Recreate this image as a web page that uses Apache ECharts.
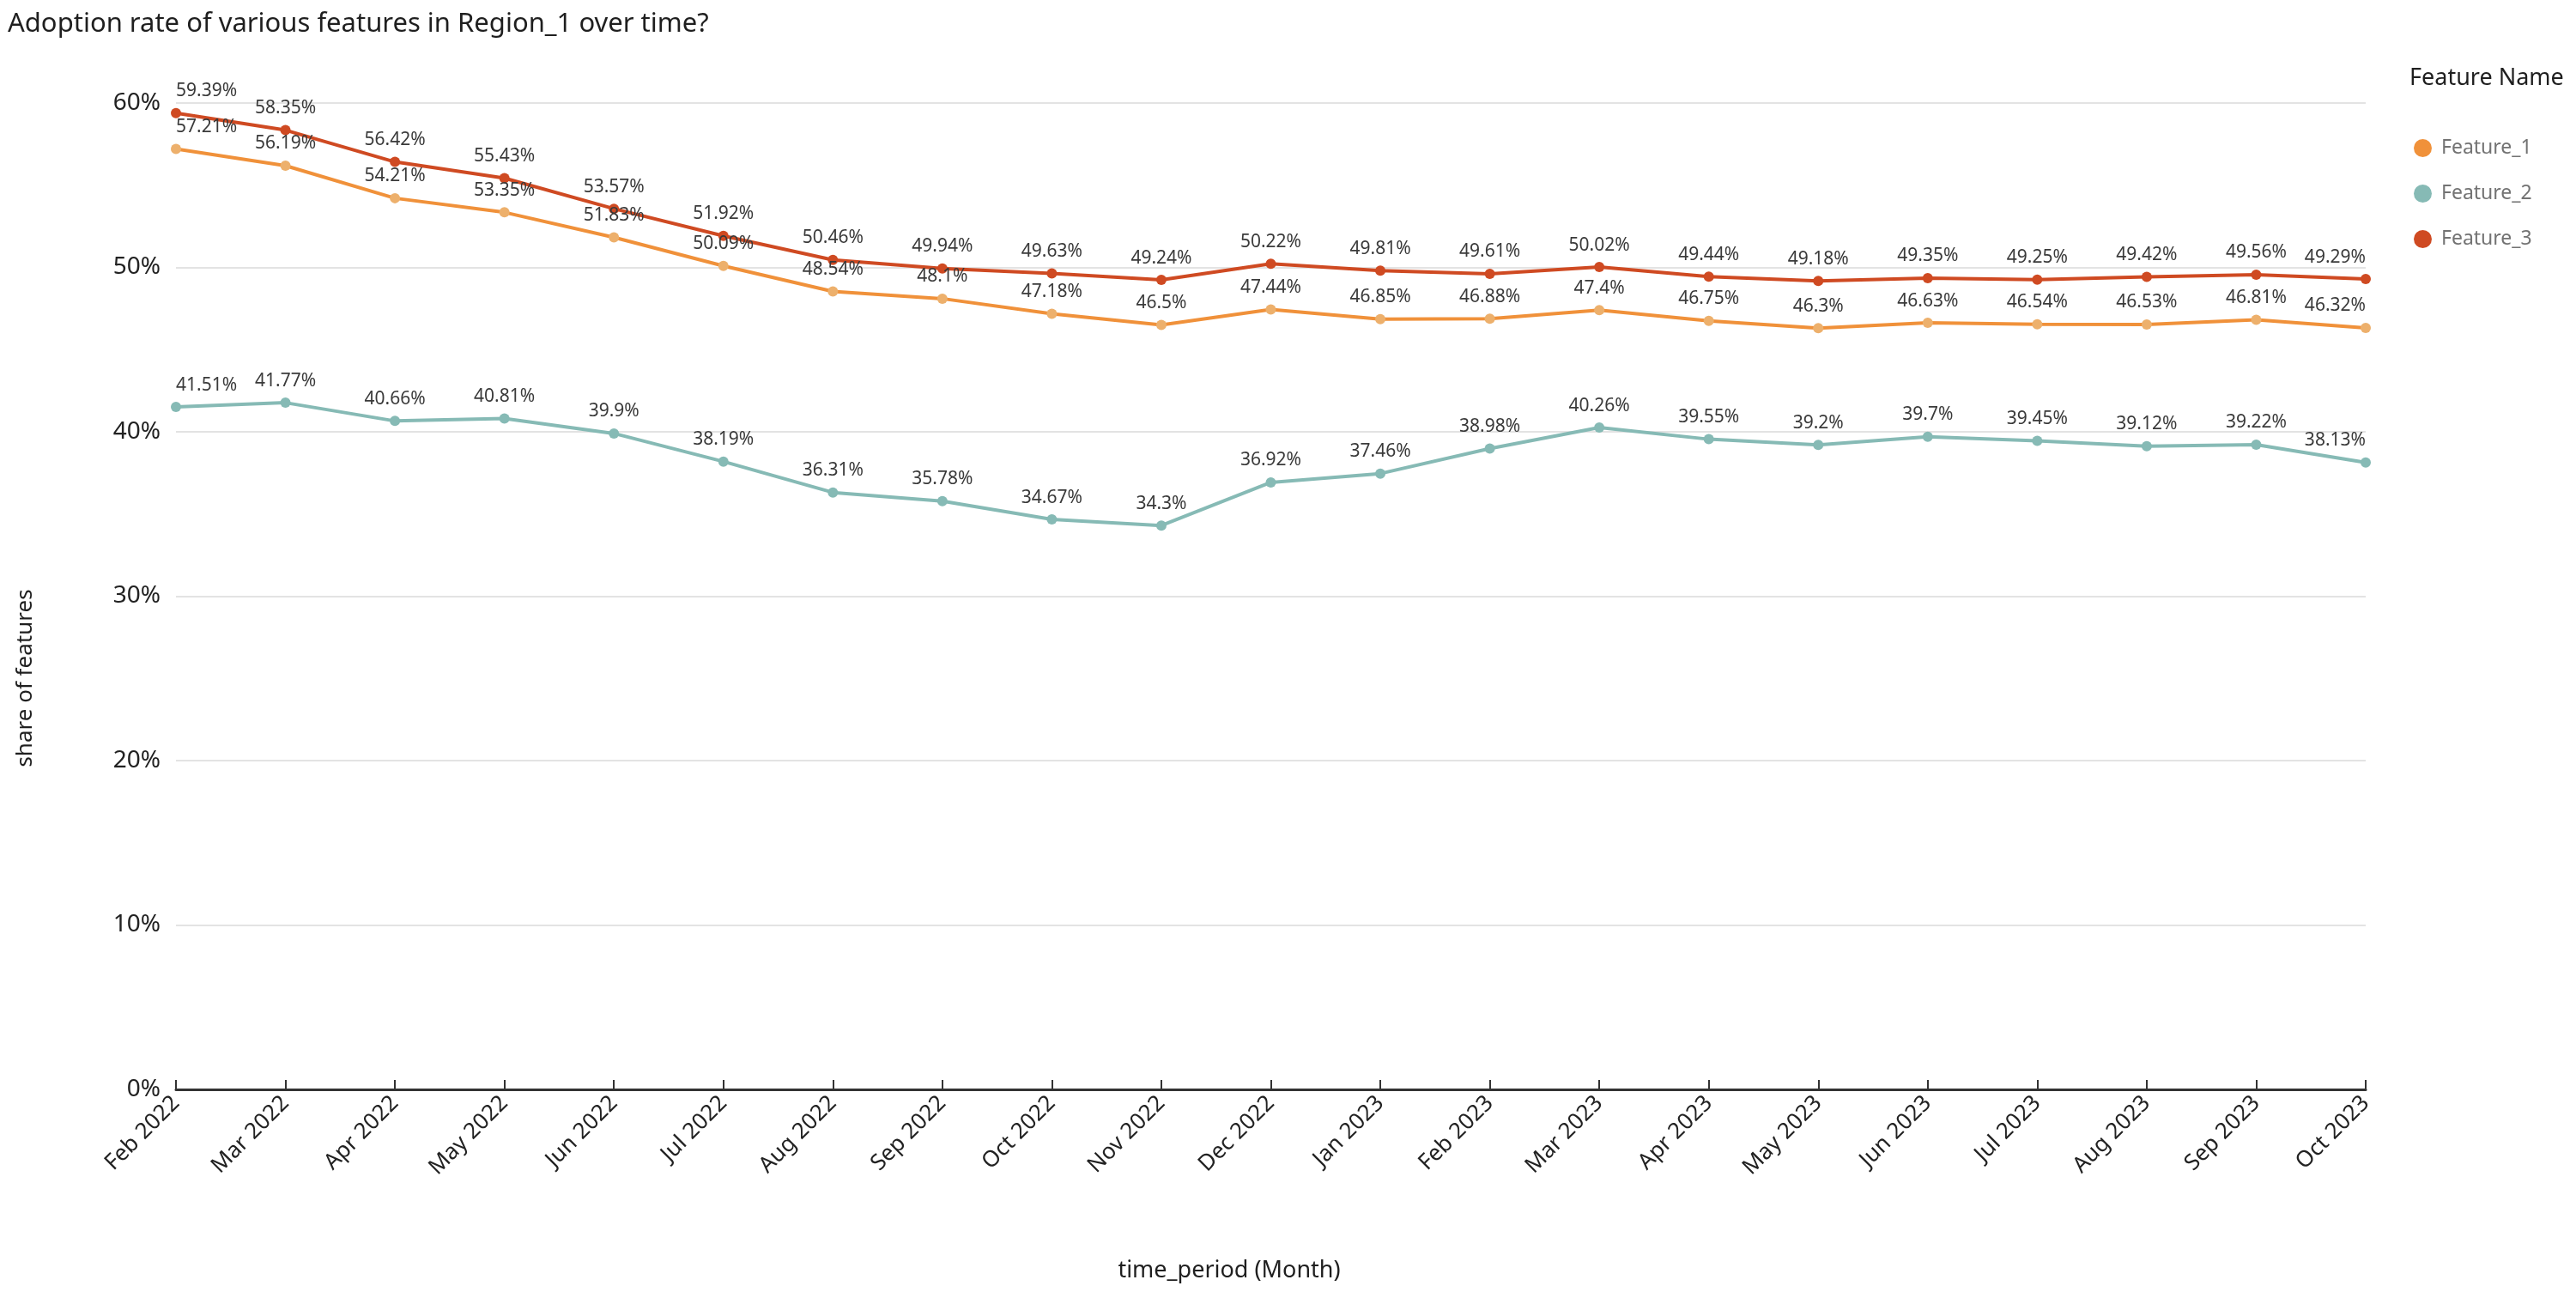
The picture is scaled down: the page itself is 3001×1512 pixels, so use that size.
<!DOCTYPE html>
<html>
<head>
<meta charset="utf-8">
<script src="https://cdn.jsdelivr.net/npm/echarts@6/dist/echarts.min.js"></script>
<style>
html,body{margin:0;padding:0;background:#fff;}
#chart{width:3001px;height:1512px;}
</style>
</head>
<body>
<div id="chart"></div>
<script>
const months = ['Feb 2022','Mar 2022','Apr 2022','May 2022','Jun 2022','Jul 2022','Aug 2022','Sep 2022','Oct 2022','Nov 2022','Dec 2022','Jan 2023','Feb 2023','Mar 2023','Apr 2023','May 2023','Jun 2023','Jul 2023','Aug 2023','Sep 2023','Oct 2023'];
const feature1 = [57.21,56.19,54.21,53.35,51.83,50.09,48.54,48.1,47.18,46.5,47.44,46.85,46.88,47.4,46.75,46.3,46.63,46.54,46.53,46.81,46.32];
const feature2 = [41.51,41.77,40.66,40.81,39.9,38.19,36.31,35.78,34.67,34.3,36.92,37.46,38.98,40.26,39.55,39.2,39.7,39.45,39.12,39.22,38.13];
const feature3 = [59.39,58.35,56.42,55.43,53.57,51.92,50.46,49.94,49.63,49.24,50.22,49.81,49.61,50.02,49.44,49.18,49.35,49.25,49.42,49.56,49.29];
const yTicks = [0,10,20,30,40,50,60];

const FONT = '"Noto Sans", sans-serif';
const chart = echarts.init(document.getElementById('chart'), null, {renderer:'canvas'});

function mkData(arr){
  return arr.map((v,i)=>{
    const d = {value:v};
    if(i===0) d.label = {align:'left'};
    if(i===arr.length-1) d.label = {align:'right'};
    return d;
  });
}
function mkSeries(name, arr, lineColor, symColor){
  return {
    name, type:'line', data: mkData(arr),
    symbol:'circle', symbolSize:12, showAllSymbol:true,
    lineStyle:{color:lineColor, width:4},
    itemStyle:{color:symColor},
    label:{show:true, position:'top', distance:9, formatter:p=>p.value+'%',
      fontFamily:FONT, fontSize:21, color:'#3a3a3a'},
    emphasis:{disabled:true},
    animation:false
  };
}

chart.setOption({
  animation:false,
  backgroundColor:'#fff',
  title:{text:'Adoption rate of various features in Region_1 over time?', left:4, top:8,
    textStyle:{fontFamily:FONT, fontSize:31, fontWeight:'normal', color:'#1f1f1f'}},
  legend:{
    orient:'vertical', left:2807, top:156,
    data:[
      {name:'Feature_1', itemStyle:{color:'#F0913A'}},
      {name:'Feature_2', itemStyle:{color:'#86BAB5'}},
      {name:'Feature_3', itemStyle:{color:'#CF4A22'}}
    ],
    icon:'circle', itemWidth:21, itemHeight:21, itemGap:30,
    textStyle:{fontFamily:FONT, fontSize:23, color:'#737373', padding:[0,0,0,6]}
  },
  graphic:[
    {type:'text', left:2807, top:78, style:{text:'Feature Name', font:'27px "Noto Sans"', fill:'#1f1f1f'}},
    {type:'text', x:30, y:790, rotation:Math.PI/2, style:{text:'share of features', font:'26px "Noto Sans"', fill:'#1f1f1f', align:'center', verticalAlign:'middle'}},
    {type:'text', x:1432, y:1480, style:{text:'time_period (Month)', font:'27px "Noto Sans"', fill:'#1f1f1f', align:'center', verticalAlign:'middle'}}
  ],
  grid:{left:205, right:245, top:120, bottom:243, containLabel:false},
  xAxis:{
    type:'category', data:months, boundaryGap:false,
    axisLine:{show:true, lineStyle:{color:'#333', width:3}},
    axisTick:{show:true, inside:true, length:11, alignWithLabel:true, lineStyle:{color:'#333', width:2}},
    axisLabel:{rotate:45, interval:0, margin:12, fontFamily:FONT, fontSize:26, color:'#222'},
    splitLine:{show:false}
  },
  yAxis:{
    type:'value', min:yTicks[0], max:yTicks[yTicks.length-1], interval:10,
    axisLine:{show:false}, axisTick:{show:false},
    axisLabel:{formatter:'{value}%', margin:18, fontFamily:FONT, fontSize:28, color:'#222'},
    splitLine:{show:true, lineStyle:{color:'#e3e3e3', width:2}}
  },
  series:[
    mkSeries('Feature_1', feature1, '#F0913A', '#EDB06C'),
    mkSeries('Feature_2', feature2, '#86BAB5', '#86BAB5'),
    mkSeries('Feature_3', feature3, '#CF4A22', '#CF4A22')
  ]
});
</script>
</body>
</html>
